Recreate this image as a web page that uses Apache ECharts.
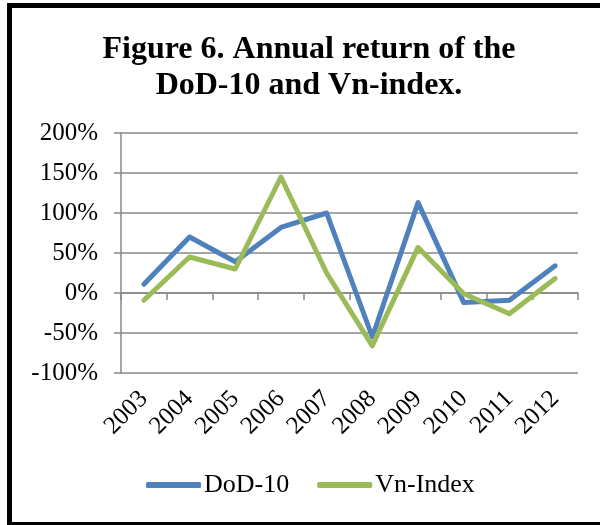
<!DOCTYPE html>
<html>
<head>
<meta charset="utf-8">
<script src="https://cdn.jsdelivr.net/npm/echarts@6/dist/echarts.min.js"></script>
<style>
  html, body { margin: 0; padding: 0; background: #fff; }
  #chart { width: 600px; height: 525px; }
</style>
</head>
<body>
<div id="chart"></div>
<script>
const years = ['2003', '2004', '2005', '2006', '2007', '2008', '2009', '2010', '2011', '2012']
const dod10 = [11, 70, 39, 82, 100, -55, 113, -12, -9, 34]
const vnIndex = [-9, 45, 30, 145, 25, -66, 57, -1, -26, 18]
const yTicks = { min: -100, max: 200, step: 50 }

const font = '"Liberation Serif", "Times New Roman", serif'
const gridGray = '#888888'

const myChart = echarts.init(document.getElementById('chart'))

const option = {
  backgroundColor: '#ffffff',
  animation: false,
  title: {
    text: 'Figure 6. Annual return of the\nDoD-10 and Vn-index.',
    left: 304,
    top: 27,
    textAlign: 'center',
    textStyle: {
      fontFamily: font,
      fontSize: 32,
      fontWeight: 'bold',
      lineHeight: 36,
      color: '#000',
    },
  },
  legend: {
    left: 146,
    top: 472,
    padding: 0,
    icon: 'roundRect',
    itemWidth: 55,
    itemHeight: 6,
    itemGap: 28,
    textStyle: { fontFamily: font, fontSize: 26, color: '#000', padding: [0, 0, 0, -2] },
    data: ['DoD-10', 'Vn-Index'],
  },
  grid: { left: 121, right: 22, top: 133, bottom: 152, containLabel: false },
  xAxis: [
    {
      type: 'category',
      data: years,
      boundaryGap: true,
      axisLine: { onZero: true, lineStyle: { color: gridGray, width: 1.5 } },
      axisTick: { show: true, length: 7, interval: 0, lineStyle: { color: gridGray, width: 1.5 } },
      axisLabel: { show: false },
      splitLine: { show: false },
    },
    {
      type: 'category',
      data: years,
      position: 'bottom',
      boundaryGap: true,
      axisLine: { show: false, onZero: false },
      axisTick: { show: false },
      axisLabel: {
        interval: 0,
        rotate: 45,
        margin: 22,
        fontFamily: font,
        fontSize: 25,
        color: '#000',
      },
    },
  ],
  yAxis: {
    type: 'value',
    min: yTicks.min,
    max: yTicks.max,
    interval: yTicks.step,
    axisLine: { show: true, lineStyle: { color: gridGray, width: 1.5 } },
    axisTick: { show: true, length: 7, lineStyle: { color: gridGray, width: 1.5 } },
    axisLabel: {
      formatter: '{value}%',
      margin: 23,
      fontFamily: font,
      fontSize: 25,
      color: '#000',
    },
    splitLine: { show: true, lineStyle: { color: gridGray, width: 1.5 } },
  },
  series: [
    {
      name: 'DoD-10',
      type: 'line',
      xAxisIndex: 0,
      data: dod10,
      symbol: 'none',
      color: '#4F81BD',
      lineStyle: { width: 5, color: '#4F81BD', cap: 'round', join: 'round' },
    },
    {
      name: 'Vn-Index',
      type: 'line',
      xAxisIndex: 0,
      data: vnIndex,
      symbol: 'none',
      color: '#9BBB59',
      lineStyle: { width: 5, color: '#9BBB59', cap: 'round', join: 'round' },
    },
  ],
  graphic: [
    {
      type: 'rect',
      silent: true,
      shape: { x: 9.5, y: 5.5, width: 600, height: 519 },
      style: { fill: null, stroke: '#000', lineWidth: 5 },
    },
  ],
}

myChart.setOption(option)
</script>
</body>
</html>
